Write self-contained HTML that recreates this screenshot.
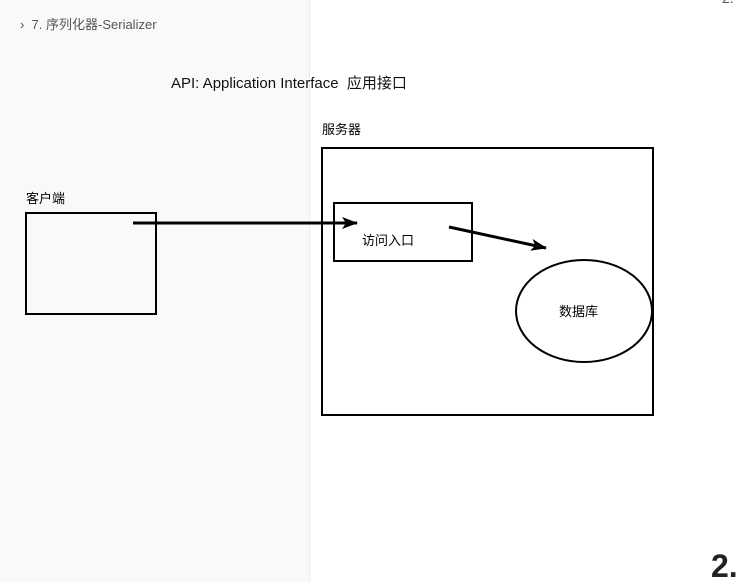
<!DOCTYPE html>
<html><head><meta charset="utf-8"><style>
body{margin:0;width:737px;height:582px;position:relative;overflow:hidden;background:#fff;font-family:"Liberation Sans","Noto Sans CJK SC",sans-serif}
.side{position:absolute;left:0;top:0;width:309px;height:582px;background:#f9f9f9;border-right:1px solid #ececec}
.t{position:absolute;white-space:nowrap}
</style></head><body>
<div class="side"></div>
<div class="t" style="left:20px;top:14px;font-size:13px;color:#555">›&nbsp;&nbsp;7. 序列化器-Serializer</div>
<div class="t" style="left:171px;top:72px;font-size:15px;color:#111">API: Application Interface&nbsp; 应用接口</div>
<div class="t" style="left:322px;top:119px;font-size:13px">服务器</div>
<div class="t" style="left:26px;top:188px;font-size:13px">客户端</div>
<div class="t" style="left:362px;top:230px;font-size:13px">访问入口</div>
<div class="t" style="left:559px;top:301px;font-size:13px">数据库</div>
<div class="t" style="left:722px;top:-10px;font-size:14px;color:#555">2.</div>
<div class="t" style="left:711px;top:548px;font-size:32px;font-weight:bold;color:#222">2.</div>
<svg width="737" height="582" style="position:absolute;left:0;top:0">
<defs><marker id="a" markerWidth="16" markerHeight="12" refX="15" refY="6" orient="auto" markerUnits="userSpaceOnUse"><path d="M0,0 L16,6 L0,12 L4,6z" fill="#000"/></marker></defs>
<g fill="none" stroke="#000" stroke-width="2">
<rect x="26" y="213" width="130" height="101"/>
<rect x="322" y="148" width="331" height="267"/>
<rect x="334" y="203" width="138" height="58"/>
<ellipse cx="584" cy="311" rx="68" ry="51"/>
<line x1="133" y1="223" x2="357" y2="223" stroke-width="3" marker-end="url(#a)"/>
<line x1="449" y1="227" x2="546" y2="248" stroke-width="3" marker-end="url(#a)"/>
</g></svg>
</body></html>
